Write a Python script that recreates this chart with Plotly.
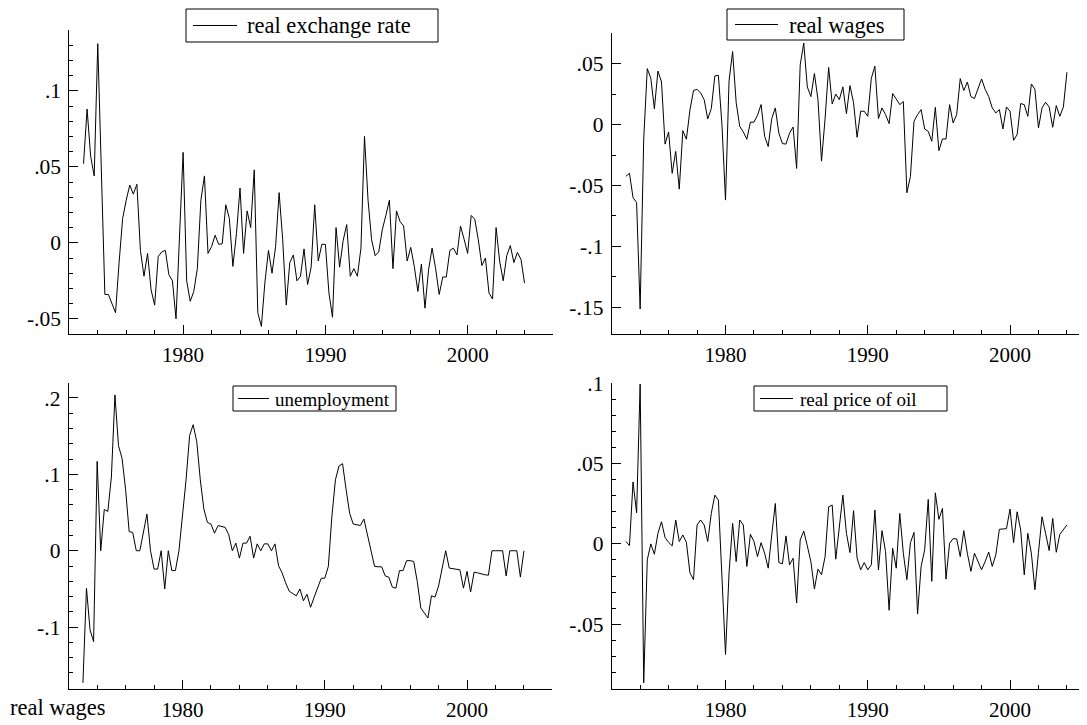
import plotly.graph_objects as go

# ---------------- data (quarterly, 1973Q1 - 2004Q1) ----------------
start_year = 1973
quarters_per_year = 4

real_exchange_rate = [
    0.052, 0.088, 0.057, 0.044, 0.131, 0.045, -0.034, -0.034, -0.040, -0.046,
    -0.013, 0.016, 0.028, 0.038, 0.032, 0.0385, -0.005, -0.022, -0.007, -0.031,
    -0.041, -0.009, -0.006, -0.005, -0.021, -0.025, -0.050, 0.005, 0.0595, -0.025,
    -0.0385, -0.032, -0.017, 0.028, 0.044, -0.007, -0.0025, 0.005, -0.001, -0.0007,
    0.025, 0.016, -0.0155, 0.006, 0.036, -0.007, 0.021, 0.010, 0.048, -0.046,
    -0.055, -0.026, -0.005, -0.020, -0.0025, 0.033, 0.002, -0.041, -0.013, -0.008,
    -0.025, -0.022, -0.004, -0.0275, -0.016, 0.025, -0.012,
    -0.001, -0.001, -0.033, -0.049, 0.010, -0.016, 0.0015, 0.012, -0.022, -0.017,
    -0.022, -0.0035, 0.070, 0.028, 0.002, -0.0085, -0.006, 0.0085, 0.018, 0.028,
    -0.017, 0.021, 0.014, 0.011, -0.012, -0.003, -0.0155, -0.032, -0.014, -0.043,
    -0.018, -0.0035, -0.017, -0.034, -0.0225, -0.0225, -0.005, -0.0035, -0.008, 0.011,
    0.0024, -0.007, 0.018, 0.0155, 0.002, -0.015, -0.010, -0.033, -0.037, 0.010,
    -0.012, -0.025, -0.0085, -0.0018, -0.013, -0.0063, -0.011, -0.0265,
]

real_wages = [
    -0.0425, -0.040, -0.060, -0.064, -0.1515, -0.012, 0.046, 0.038, 0.013, 0.044,
    0.035, -0.016, -0.006, -0.040, -0.022, -0.053, -0.005, -0.012, 0.012, 0.028,
    0.029, 0.026, 0.0205, 0.0047, 0.013, 0.040, 0.0405, 0.0, -0.062, 0.036,
    0.060, 0.018, -0.0014, -0.006, -0.012, 0.002, 0.002, 0.0077, 0.0165, -0.0096,
    -0.018, 0.005, 0.0137, -0.007, -0.0156, -0.016, -0.007, -0.002, -0.036, 0.049,
    0.067, 0.031, 0.023, 0.042, 0.0205, -0.030,
    0.005, 0.047, 0.017, 0.025, 0.0205, 0.031, 0.009, 0.032, 0.018, -0.0104,
    0.011, 0.011, 0.0068, 0.038, 0.048, 0.005, 0.0137, 0.0082, 0.0008, 0.0255,
    0.021, 0.0164, 0.019, -0.056, -0.0425, 0.0027, 0.0082, 0.0123, -0.0036, -0.0055,
    -0.0137, 0.0142, -0.0214, -0.0118, -0.0118, 0.0164, 0.0014, 0.0082, 0.0378, 0.028,
    0.035, 0.023, 0.0214, 0.029, 0.0375, 0.029, 0.023, 0.0137, 0.0096, 0.0123,
    -0.0036, 0.0145, 0.011, -0.0129, -0.0082, 0.0173, 0.0164, 0.0068, 0.0334, 0.029,
    -0.0027, 0.0137, 0.0184, 0.0145, -0.0022, 0.0156, 0.0068, 0.0145, 0.043,
]

unemployment = [
    -0.173, -0.049, -0.1035, -0.119, 0.117, 0.0, 0.054, 0.0515, 0.0965, 0.204,
    0.1375, 0.121, 0.080, 0.025, 0.024, 0.0, 0.0, 0.024, 0.048, 0.0,
    -0.024, -0.024, 0.0, -0.050, 0.0, -0.026, -0.026, 0.0, 0.045, 0.093,
    0.151, 0.165, 0.143, 0.093, 0.0546, 0.037, 0.035, 0.023, 0.033, 0.032,
    0.0306, 0.021, 0.0, 0.010, -0.0096, 0.010, 0.010, 0.019, -0.0096, 0.009,
    0.0, 0.009, 0.009, 0.0, 0.009, -0.0196, -0.029, -0.042, -0.053, -0.056,
    -0.059, -0.050,
    -0.0655, -0.057, -0.074, -0.061, -0.049, -0.036, -0.036, -0.0205, 0.045, 0.093,
    0.111, 0.114, 0.080, 0.049, 0.035, 0.034, 0.033, 0.0415, 0.021, -0.001,
    -0.0205, -0.021, -0.021, -0.033, -0.0345, -0.0476, -0.049, -0.026, -0.026, -0.013,
    -0.013, -0.014, -0.040, -0.075, -0.081, -0.088, -0.059, -0.0607, -0.046, -0.025,
    0.0, -0.0227, -0.0236, -0.024, -0.025, -0.049, -0.027, -0.054, -0.028, -0.029,
    -0.0306, -0.0314, -0.032, 0.0, 0.0, 0.0, 0.0, -0.033, 0.0, 0.0,
    0.0, -0.0345, 0.0,
]

real_price_of_oil = [
    0.0015, -0.001, 0.0386, 0.0194, 0.0996, -0.0864, -0.0099, 0.0, -0.0064, 0.0066,
    0.0138, 0.004, 0.001, -0.0012, 0.0149, 0.0015, 0.0056, 0.001, -0.018, -0.0223,
    0.0118, 0.0149, 0.0118, 0.0015, 0.019, 0.0304, 0.0273, -0.0233, -0.0688, -0.018,
    0.0128, -0.011, 0.0149, 0.0118, -0.014, 0.006, 0.0015, -0.0079, 0.0008, -0.0058,
    -0.0151, 0.0056, 0.0252, -0.0116, -0.0124, 0.005, -0.013, -0.0089, -0.0368, 0.0025,
    0.008, -0.0012, -0.011, -0.028, -0.0157, -0.0192, -0.0079,
    0.0231, 0.0242, -0.0095, 0.0107, 0.0304, 0.0066, -0.0054, 0.0207, -0.0089, -0.0161,
    -0.0116, -0.0161, -0.013, 0.0211, -0.0161, 0.0083, -0.0048, -0.0413, -0.0027, -0.0151,
    0.019, -0.0058, -0.0223, 0.0008, 0.0072, -0.0436, -0.014, -0.0037, 0.0277, -0.0233,
    0.0318, 0.0153, 0.0221, -0.0219, 0.0004, 0.0033, 0.0031, -0.0079, 0.0083, -0.0058,
    -0.0171, -0.0058, -0.0116, -0.0161, -0.011, -0.005, -0.014, -0.0068, 0.0091, 0.0093,
    0.0095, 0.0217, 0.0008, 0.020, 0.0087, -0.0192, 0.0066, -0.0058, -0.0285, -0.0052,
    0.0169, 0.0066, -0.0041, 0.0159, -0.0052, 0.006, 0.0091, 0.0118,
]

dates = [start_year + i / quarters_per_year for i in range(len(real_exchange_rate))]

series_names = ["real exchange rate", "real wages", "unemployment", "real price of oil"]

# tick labels
x_tickvals = [1980, 1990, 2000]
x_ticktext = ["1980", "1990", "2000"]
y1_tickvals = [0.1, 0.05, 0, -0.05]
y1_ticktext = [".1", ".05", "0", "-.05"]
y2_tickvals = [0.05, 0, -0.05, -0.1, -0.15]
y2_ticktext = [".05", "0", "-.05", "-.1", "-.15"]
y3_tickvals = [0.2, 0.1, 0, -0.1]
y3_ticktext = [".2", ".1", "0", "-.1"]
y4_tickvals = [0.1, 0.05, 0, -0.05]
y4_ticktext = [".1", ".05", "0", "-.05"]

# ---------------- figure ----------------
PAGE_W, PAGE_H = 1087, 725
OFF = 8                      # default page margin around the plot div
W, H = PAGE_W - OFF, PAGE_H - OFF
FONT = "Liberation Serif"

fig = go.Figure()

all_series = [real_exchange_rate, real_wages, unemployment, real_price_of_oil]
axis_ids = [("x", "y"), ("x2", "y2"), ("x3", "y3"), ("x4", "y4")]
for vals, name, (xa, ya) in zip(all_series, series_names, axis_ids):
    fig.add_trace(go.Scatter(
        x=dates, y=vals, mode="lines", name=name,
        line=dict(color="black", width=1),
        xaxis=xa, yaxis=ya, showlegend=False,
        hoverinfo="skip",
    ))


def px_x(p):
    return min(max((p - OFF) / W, 0), 1)


def px_y(p):
    return min(max(1 - (p - OFF) / H, 0), 1)


def xaxis_cfg(left, right, rng, anchor):
    return dict(
        domain=[px_x(left), px_x(right)], range=rng, anchor=anchor,
        automargin=False,
        showline=True, linecolor="black", linewidth=1,
        showgrid=False, zeroline=False,
        tickmode="array", tickvals=x_tickvals, ticktext=x_ticktext,
        ticks="inside", ticklen=9, tickcolor="black", tickwidth=1,
        minor=dict(ticks="inside", ticklen=4, tickcolor="black", tickwidth=1,
                   tickmode="linear", tick0=1972, dtick=2, showgrid=False),
        tickfont=dict(family=FONT, size=21, color="black"),
        ticklabelstandoff=2,
        fixedrange=True,
    )


def yaxis_cfg(top, bottom, rng, tv, tt, minor_dtick, anchor):
    return dict(
        domain=[px_y(bottom), px_y(top)], range=rng, anchor=anchor,
        automargin=False,
        showline=True, linecolor="black", linewidth=1,
        showgrid=False, zeroline=False,
        tickmode="array", tickvals=tv, ticktext=tt,
        ticks="inside", ticklen=9, tickcolor="black", tickwidth=1,
        minor=dict(ticks="inside", ticklen=4, tickcolor="black", tickwidth=1,
                   tickmode="linear", tick0=0, dtick=minor_dtick, showgrid=False),
        tickfont=dict(family=FONT, size=21.5, color="black"),
        ticklabelstandoff=3,
        fixedrange=True,
    )


right_x_end = 1972 + (PAGE_W - 611.7) / 14.226

layout = dict(
    template="none",
    width=W, height=H,
    margin=dict(l=0, r=0, t=0, b=0, pad=0, autoexpand=False),
    paper_bgcolor="white", plot_bgcolor="white",
    font=dict(family=FONT, color="black"),
    hovermode=False,
    showlegend=False,
    xaxis=xaxis_cfg(69.3, 553.0, [1972, 2006], "y"),
    yaxis=yaxis_cfg(30.0, 334.0, [-0.06, 0.14], y1_tickvals, y1_ticktext, 0.01, "x"),
    xaxis2=xaxis_cfg(611.7, PAGE_W, [1972, right_x_end], "y2"),
    yaxis2=yaxis_cfg(33.3, 334.0, [-0.172, 0.075], y2_tickvals, y2_ticktext, 0.025, "x2"),
    xaxis3=xaxis_cfg(68.7, 552.4, [1972, 2006], "y3"),
    yaxis3=yaxis_cfg(382.7, 689.0, [-0.181, 0.22], y3_tickvals, y3_ticktext, 0.02, "x3"),
    xaxis4=xaxis_cfg(611.7, PAGE_W, [1972, right_x_end], "y4"),
    yaxis4=yaxis_cfg(383.3, 688.5, [-0.09, 0.1], y4_tickvals, y4_ticktext, 0.01, "x4"),
)

# legend boxes (box, line sample, label) for each panel, in page pixels
legend_boxes = [
    # (box_left, box_top, box_right, box_bottom, line_x0, line_x1, text_x, font_size, label)
    (186, 9, 438, 42, 193, 237, 245, 22.5, series_names[0]),
    (727, 9, 904, 40, 735, 778, 787, 22.5, series_names[1]),
    (233, 386, 396, 411, 238, 269, 273, 19, series_names[2]),
    (754, 386, 947, 411, 760, 793, 798, 19, series_names[3]),
]

shapes = []
annotations = []
for bl, bt, br, bb, lx0, lx1, tx, fs, label in legend_boxes:
    cy = (bt + bb) / 2
    shapes.append(dict(type="rect", xref="paper", yref="paper",
                       x0=px_x(bl), x1=px_x(br), y0=px_y(bb), y1=px_y(bt),
                       line=dict(color="black", width=1), fillcolor="white", layer="above"))
    shapes.append(dict(type="line", xref="paper", yref="paper",
                       x0=px_x(lx0), x1=px_x(lx1), y0=px_y(cy), y1=px_y(cy),
                       line=dict(color="black", width=1), layer="above"))
    annotations.append(dict(text=label, xref="paper", yref="paper",
                            x=px_x(tx), y=px_y(cy + 0.5), xanchor="left", yanchor="middle",
                            showarrow=False, font=dict(family=FONT, size=fs, color="black")))

annotations.append(dict(
    text="real wages", xref="paper", yref="paper",
    x=px_x(6), y=px_y(707), xanchor="left", yanchor="middle",
    showarrow=False, font=dict(family=FONT, size=22.5, color="black"),
))

layout["shapes"] = shapes
layout["annotations"] = annotations

fig.update_layout(**layout)
fig.write_html("out.html")
